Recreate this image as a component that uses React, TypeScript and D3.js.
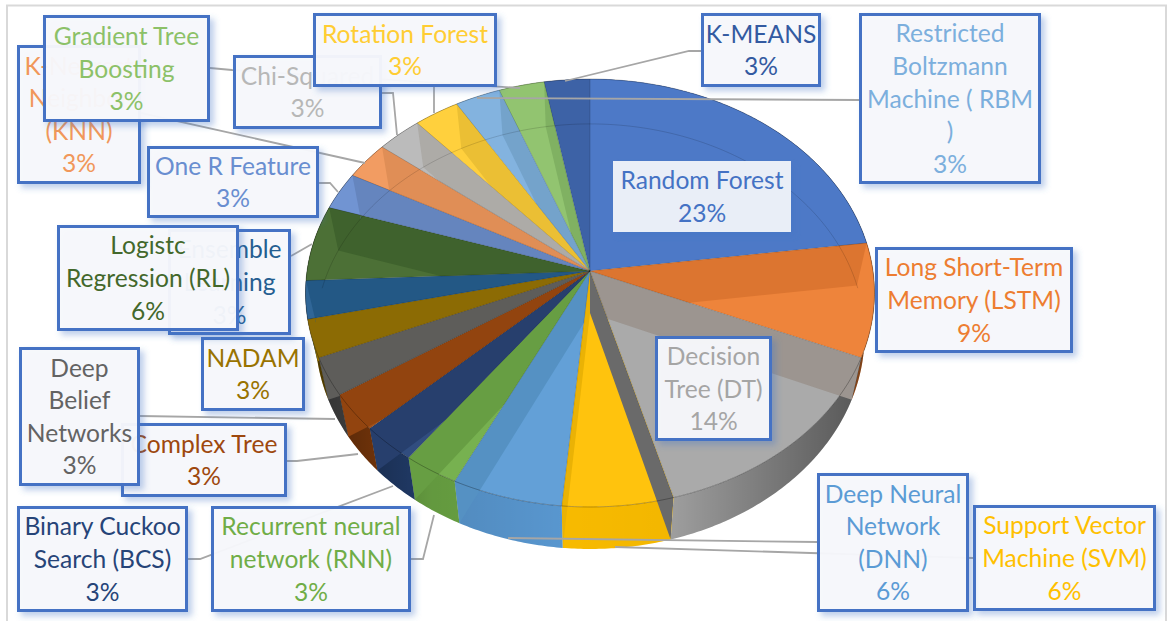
import React from "react";
import * as d3 from "d3";

// ---- data (article counts; the labels show each count's share of the total)
const categories = [
  "Random Forest", "Long Short-Term Memory (LSTM)", "Decision Tree (DT)", "Support Vector Machine (SVM)",
  "Deep Neural Network (DNN)", "Recurrent neural network (RNN)", "Binary Cuckoo Search (BCS)", "Complex Tree",
  "Deep Belief Networks", "NADAM", "Ensemble Learning", "Logistc Regression (RL)", "One R Feature",
  "K-Nearest Neighbor (KNN)", "Chi-Squared", "Rotation Forest", "Restricted Boltzmann Machine ( RBM )",
  "Gradient Tree Boosting", "K-MEANS",
];
const counts = [8, 3, 5, 2, 2, 1, 1, 1, 1, 1, 1, 2, 1, 1, 1, 1, 1, 1, 1];
const labelLines = [
  ["Random Forest"], ["Long Short-Term", "Memory (LSTM)"], ["Decision", "Tree (DT)"], ["Support Vector", "Machine (SVM)"],
  ["Deep Neural", "Network", "(DNN)"], ["Recurrent neural", "network (RNN)"], ["Binary Cuckoo", "Search (BCS)"], ["Complex Tree"],
  ["Deep", "Belief", "Networks"], ["NADAM"], ["Ensemble", "Learning"], ["Logistc", "Regression (RL)"], ["One R Feature"],
  ["K-Nearest", "Neighbor", "(KNN)"], ["Chi-Squared"], ["Rotation Forest"], ["Restricted", "Boltzmann", "Machine ( RBM", ")"],
  ["Gradient Tree", "Boosting"], ["K-MEANS"],
];
const palette = [
  "#4472C4", "#ED7D31", "#A5A5A5", "#FFC000", "#5B9BD5", "#70AD47", "#264478", "#9E480E", "#636363", "#997300",
  "#255E91", "#43682B", "#698ED0", "#F1975A", "#B7B7B7", "#FFCD33", "#7CAFDD", "#8CC168", "#335AA1",
];

// ---- layout, separate from the data: label boxes [left, top, right, bottom] and leader polylines
const boxes = [
  [613, 161, 791, 232], [875, 247, 1073, 353], [655, 336, 772, 441], [973, 505, 1156, 611],
  [817, 473, 969, 612], [211, 506, 411, 612], [17, 506, 188, 612], [121, 423, 287, 497],
  [19, 347, 140, 486], [201, 337, 305, 411], [168, 229, 291, 335], [57, 225, 239, 331], [147, 146, 319, 218],
  [17, 45, 141, 184], [233, 55, 382, 129], [313, 13, 497, 87], [859, 13, 1041, 184], [43, 15, 210, 122], [701, 13, 821, 87],
];
const leaders: number[][][] = [
  [[973, 558], [615, 547]], [[817, 542], [508, 538]], [[411, 559], [423, 559], [434, 515]],
  [[188, 559], [200, 559], [393, 486]], [[287, 461], [297, 461], [358, 454]], [[140, 416], [335, 419]],
  [[291, 256], [312, 244]], [[319, 183], [330, 183], [338, 192]], [[141, 113], [365, 163]],
  [[382, 93], [393, 93], [397, 135]], [[434, 87], [434, 113]], [[859, 100], [477, 98]],
  [[210, 68], [232, 70], [520, 88]], [[701, 51], [689, 51], [565, 81]],
];

const W = 1168, H = 621;
const cx = 590, cy = 271, rx = 283, ry = 211.7, persp = 0.1028, depth = 42, shrink = 0.965;
const FONT = "Lato, 'Noto Sans', sans-serif";
const FS = 24.6, LH = 32.6;

const topPt = (a: number): [number, number] => {
  const u = Math.sin(a), v = Math.cos(a), w = 1 + persp * v;
  return [cx + (rx * u) / w, cy - (ry * v) / w];
};
const botPt = (a: number): [number, number] => {
  const u = Math.sin(a), v = Math.cos(a), w = 1 + persp * v;
  return [cx + (shrink * rx * u) / w, cy + depth - (ry * (v > 0 ? 0.985 : 1) * v) / w];
};
const arcAngles = (a0: number, a1: number) => [...d3.range(a0, a1, 0.01), a1];
const line = d3.line();
const sectorPath = (a0: number, a1: number) =>
  line([[cx, cy], ...arcAngles(a0, a1).map(topPt)] as [number, number][]) + "Z";
const wallPath = (a0: number, a1: number) =>
  line([...arcAngles(a0, a1).map(topPt), ...arcAngles(a0, a1).reverse().map(botPt)] as [number, number][]) + "Z";

export default function App() {
  const arcs = d3.pie<number>().sort(null).value((d) => d)(counts);
  const total = d3.sum(counts);
  const pct = d3.format(".0%");
  const n = counts.length;

  // radial walls: each one lies on the slice below its top edge
  const walls = arcs.map((arc, i) => {
    const a = arc.startAngle;
    const prev = (i + n - 1) % n;
    const deg = (a * 180) / Math.PI;
    const rightHalf = deg < 180;
    const under = rightHalf ? i : prev;
    const other = rightHalf ? prev : i;
    const t = Math.max(0, Math.min(1, (deg - 95) / 65));
    const f = rightHalf ? 0.02 + 1.0 * t * t : 0.04;
    const fill = d3.interpolateRgb(
      d3.rgb(palette[under]).darker(0.16).formatHex(),
      d3.rgb(palette[other]).darker(1.25).formatHex()
    )(Math.min(1, f));
    const [tx, ty] = topPt(a), [bx, by] = botPt(a);
    const d = line([[cx, cy], [tx, ty], [bx, by], [cx, cy + depth]] as [number, number][]) + "Z";
    return { d, fill, under };
  });

  return (
    <svg width={W} height={H} viewBox={`0 0 ${W} ${H}`} style={{ position: "absolute", left: 0, top: 0, background: "#fff" }}>
      <defs>
        <filter id="sh" x="-20%" y="-20%" width="140%" height="140%">
          <feDropShadow dx="4" dy="4" stdDeviation="3" floodColor="#4472C4" floodOpacity="0.36" />
        </filter>
        <linearGradient id="wallShade" gradientUnits="userSpaceOnUse" x1="305" x2="873" y1="0" y2="0">
          <stop offset="0" stopColor="#000" stopOpacity="0.55" />
          <stop offset="0.22" stopColor="#000" stopOpacity="0.12" />
          <stop offset="0.45" stopColor="#000" stopOpacity="0.03" />
          <stop offset="0.65" stopColor="#000" stopOpacity="0.05" />
          <stop offset="1" stopColor="#000" stopOpacity="0.5" />
        </linearGradient>
        {arcs.map((arc, i) => (
          <clipPath id={`slice${i}`} key={i}>
            <path d={sectorPath(arc.startAngle, arc.endAngle)} />
            <path d={wallPath(arc.startAngle, arc.endAngle)} />
          </clipPath>
        ))}
      </defs>

      <rect x={7} y={5.5} width={1159} height={640} fill="#fff" stroke="#D9D9D9" strokeWidth={2} />

      {arcs.map((arc, i) => (
        <path key={i} d={wallPath(arc.startAngle, arc.endAngle)} fill={palette[i]} />
      ))}
      <path d={wallPath(0, 2 * Math.PI)} fill="url(#wallShade)" />

      {arcs.map((arc, i) => (
        <path key={i} d={sectorPath(arc.startAngle, arc.endAngle)}
          fill={d3.interpolateRgb(palette[i], "#ffffff")(0.05)} />
      ))}
      {walls.map((w, i) => (
        <path key={i} d={w.d} fill={w.fill} clipPath={`url(#slice${w.under})`} />
      ))}
      <path d={line(arcAngles(-1.45, 1.45).map(botPt) as [number, number][]) as string}
        fill="none" stroke="#000" strokeOpacity={0.14} strokeWidth={1} />
      {arcs.map((arc, i) => {
        const [tx, ty] = topPt(arc.startAngle);
        return <line key={i} x1={cx} y1={cy} x2={tx} y2={ty} stroke="#000" strokeOpacity={0.2} strokeWidth={0.8} />;
      })}
      <path d={line(arcAngles(0, 2 * Math.PI).map(topPt) as [number, number][]) as string}
        fill="none" stroke="#000" strokeOpacity={0.28} strokeWidth={1} />

      {leaders.map((pts, i) => (
        <path key={i} d={line(pts as [number, number][]) as string} fill="none" stroke="#A6A6A6" strokeWidth={1.8} />
      ))}

      {categories.map((name, i) => {
        const [l, t, r, b] = boxes[i];
        const lines = [...labelLines[i], pct(counts[i] / total)];
        const mx = (l + r) / 2, my = (t + b) / 2;
        return (
          <g key={name}>
            <rect x={l + 1.5} y={t + 1.5} width={r - l - 3} height={b - t - 3}
              fill={i === 0 ? "#E9EEF7" : "#F8F9FC"} fillOpacity={i === 0 ? 1 : 0.95}
              stroke={i === 0 ? "#E9EEF7" : "#4472C4"} strokeWidth={3} filter="url(#sh)" />
            {lines.map((s, j) => (
              <text key={j} x={mx} y={my + (j - (lines.length - 1) / 2) * LH + 9}
                textAnchor="middle" fontFamily={FONT} fontSize={FS} fill={palette[i]}>{s}</text>
            ))}
          </g>
        );
      })}
    </svg>
  );
}
